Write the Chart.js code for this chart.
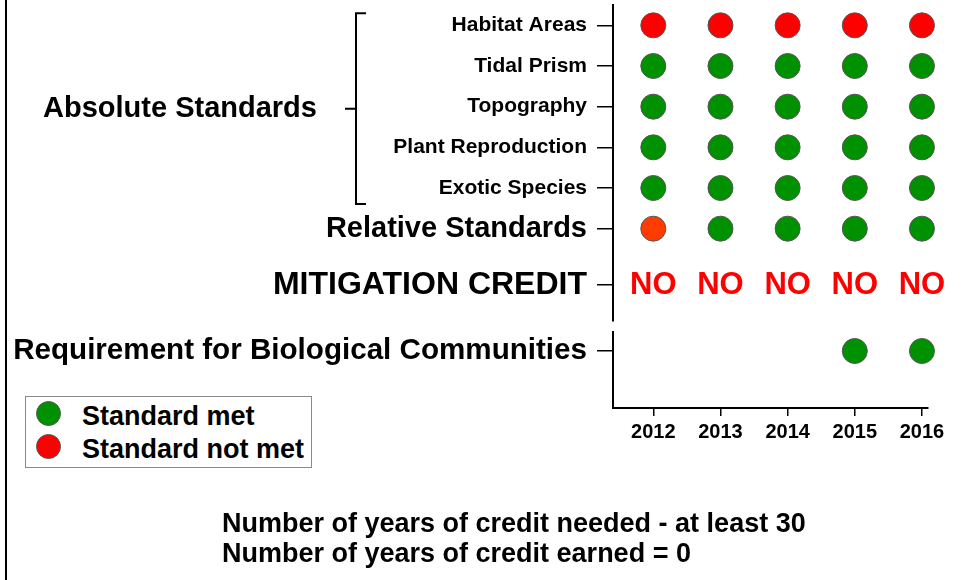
<!DOCTYPE html>
<html lang="en">
<head>
    <meta charset="UTF-8">
    <title>Mitigation Standards</title>
    <script src="https://cdn.jsdelivr.net/npm/chart.js"></script>

    <style>
        body {
            margin: 0;
            background: #ffffff;
            font-family: 'Liberation Sans', Arial, sans-serif;
        }

        #wrap {
            position: relative;
            width: 980px;
            height: 580px;
            overflow: hidden;
        }

        #frame {
            position: absolute;
            left: 5px;
            top: 0;
            width: 2px;
            height: 580px;
            background: #000;
        }

        #chart {
            position: absolute;
            left: 0;
            top: 0;
        }

        #legend {
            position: absolute;
            left: 25px;
            top: 396px;
            width: 285px;
            height: 70px;
            border: 1px solid #8a8a8a;
            background: #fff;
        }

        .item {
            position: absolute;
            left: 10px;
            width: 270px;
            height: 30px;
        }

        .dot {
            position: absolute;
            left: 0;
            top: 0;
            width: 25px;
            height: 25px;
            border-radius: 50%;
            border: 1px solid #555;
            box-sizing: border-box;
        }

        .txt {
            position: absolute;
            left: 46px;
            top: 0;
            font-weight: bold;
            font-size: 27px;
            line-height: 30px;
            white-space: nowrap;
            color: #000;
        }

        #notes {
            position: absolute;
            left: 222px;
            top: 508px;
            font-weight: bold;
            font-size: 27px;
            line-height: 30px;
            white-space: nowrap;
            color: #000;
        }
    </style>
</head>
<body>

<div id="wrap">
    <div id="frame"></div>
    <canvas id="chart" width="980" height="580"></canvas>
    <div id="legend"></div>
    <div id="notes"></div>
</div>

<script>
    // years on the x axis
    const years = [2012, 2013, 2014, 2015, 2016];

    // rows of the upper panel (top to bottom)
    const standards = ['Habitat Areas', 'Tidal Prism', 'Topography', 'Plant Reproduction', 'Exotic Species', 'Relative Standards'];

    // 1 = standard met, 0 = standard not met, 0.5 = partly met (orange dot)
    const habitatAreas      = [0, 0, 0, 0, 0];
    const tidalPrism        = [1, 1, 1, 1, 1];
    const topography        = [1, 1, 1, 1, 1];
    const plantReproduction = [1, 1, 1, 1, 1];
    const exoticSpecies     = [1, 1, 1, 1, 1];
    const relativeStandards = [0.5, 1, 1, 1, 1];

    const creditLabel = 'MITIGATION CREDIT';
    const mitigationCredit = ['NO', 'NO', 'NO', 'NO', 'NO'];

    const communitiesLabel = 'Requirement for Biological Communities';
    const biologicalCommunities = [null, null, null, 1, 1];  // not assessed before 2015

    const legendLabels = ['Standard met', 'Standard not met'];
    const notes = ['Number of years of credit needed - at least 30', 'Number of years of credit earned = 0'];

    const FONT = "'Liberation Sans', Arial, sans-serif";
    const GREEN = '#009100';
    const RED = '#ff0000';
    const ORANGE = '#ff3c00';

    function statusColor(v) {
        if (v === 1) return GREEN;
        if (v === 0) return RED;
        return ORANGE;
    }

    // build the point lists from the rows
    const stdRows = [habitatAreas, tidalPrism, topography, plantReproduction, exoticSpecies, relativeStandards];
    const stdPoints = [];
    stdRows.forEach((row, r) => {
        row.forEach((v, i) => stdPoints.push({ x: years[i], y: standards[r], s: v }));
    });

    const creditPoints = mitigationCredit.map((t, i) => ({ x: years[i], y: creditLabel, t: t }));

    const reqPoints = [];
    biologicalCommunities.forEach((v, i) => {
        if (v !== null) reqPoints.push({ x: years[i], y: communitiesLabel, s: v });
    });

    // all left axes share the same width so the plot starts at the same x,
    // and their label padding must not push the plot area down
    const fixWidth = scale => {
        scale.width = 613;
        scale.paddingTop = 0;
        scale.paddingBottom = 0;
    };
    const axisBorder = { color: '#000', width: 2 };
    const tickGrid = { drawOnChartArea: false, drawTicks: true, tickLength: 16, tickColor: '#000', lineWidth: 1.5 };

    // "NO" text drawn on the credit row
    const creditText = {
        id: 'creditText',
        afterDatasetsDraw(chart) {
            const meta = chart.getDatasetMeta(1);
            const ctx = chart.ctx;
            ctx.save();
            ctx.font = 'bold 31px ' + FONT;
            ctx.fillStyle = RED;
            ctx.textAlign = 'center';
            ctx.textBaseline = 'middle';
            meta.data.forEach((el, i) => ctx.fillText(creditPoints[i].t, el.x, el.y));
            ctx.restore();
        }
    };

    // bracket grouping the absolute standards
    const bracket = {
        id: 'bracket',
        afterDraw(chart) {
            const s = chart.scales.yStd;
            const top = s.getPixelForValue(0) - 12;
            const bottom = s.getPixelForValue(4) + 16;
            const mid = (top + bottom) / 2;
            const x = 356;
            const ctx = chart.ctx;
            ctx.save();
            ctx.strokeStyle = '#000';
            ctx.lineWidth = 2;
            ctx.beginPath();
            ctx.moveTo(x + 10, top);
            ctx.lineTo(x, top);
            ctx.lineTo(x, bottom);
            ctx.lineTo(x + 10, bottom);
            ctx.moveTo(x, mid);
            ctx.lineTo(x - 11, mid);
            ctx.stroke();
            ctx.font = 'bold 29px ' + FONT;
            ctx.fillStyle = '#000';
            ctx.textAlign = 'center';
            ctx.textBaseline = 'middle';
            ctx.fillText('Absolute Standards', 180, mid);
            ctx.restore();
        }
    };

    const dotStyle = {
        clip: false,
        pointRadius: 12.5,
        pointBorderWidth: 1,
        pointBorderColor: '#555',
        pointBackgroundColor: ctx => statusColor(ctx.raw ? ctx.raw.s : 1)
    };

    new Chart(document.getElementById('chart'), {
        type: 'scatter',
        data: {
            datasets: [
                Object.assign({ label: 'standards', data: stdPoints, yAxisID: 'yStd' }, dotStyle),
                { label: 'credit', data: creditPoints, yAxisID: 'yMit', pointRadius: 0, clip: false },
                Object.assign({ label: 'communities', data: reqPoints, yAxisID: 'yReq' }, dotStyle)
            ]
        },
        options: {
            responsive: false,
            animation: false,
            events: [],
            layout: { autoPadding: false, padding: { top: 5, right: 52, bottom: 0, left: 0 } },
            plugins: {
                legend: { display: false },
                tooltip: { enabled: false }
            },
            scales: {
                x: {
                    type: 'linear',
                    min: 2011.4,
                    max: 2016.09,
                    afterBuildTicks: s => { s.ticks = years.map(v => ({ value: v })); },
                    afterFit: s => { s.height = 172; },
                    ticks: {
                        color: '#000',
                        padding: 4,
                        font: { family: FONT, weight: 'bold', size: 20 },
                        callback: v => String(v)
                    },
                    grid: { drawOnChartArea: false, drawTicks: true, tickLength: 8, tickColor: '#000', lineWidth: 1.5 },
                    border: axisBorder
                },
                yStd: {
                    type: 'category',
                    labels: standards,
                    offset: true,
                    position: 'left',
                    stack: 'rows',
                    stackWeight: 244,
                    weight: 4,
                    afterFit: fixWidth,
                    ticks: {
                        autoSkip: false,
                        color: '#000',
                        padding: 10,
                        // last row (Relative Standards) is a heading, larger font
                        font: ctx => ({ family: FONT, weight: 'bold', size: ctx.index === 5 ? 29 : 21 })
                    },
                    grid: tickGrid,
                    border: axisBorder
                },
                yMit: {
                    type: 'category',
                    labels: [creditLabel],
                    offset: true,
                    position: 'left',
                    stack: 'rows',
                    stackWeight: 72,
                    weight: 3,
                    afterFit: fixWidth,
                    ticks: { autoSkip: false, color: '#000', padding: 10, font: { family: FONT, weight: 'bold', size: 32 } },
                    grid: tickGrid,
                    border: axisBorder
                },
                yGap: {
                    type: 'category',
                    labels: [''],
                    position: 'left',
                    stack: 'rows',
                    stackWeight: 11,
                    weight: 2,
                    afterFit: fixWidth,
                    ticks: { display: false },
                    grid: { display: false },
                    border: { display: false }
                },
                yReq: {
                    type: 'category',
                    labels: [communitiesLabel, ''],
                    offset: true,
                    position: 'left',
                    stack: 'rows',
                    stackWeight: 76,
                    weight: 1,
                    afterFit: fixWidth,
                    ticks: { autoSkip: false, color: '#000', padding: 10, font: { family: FONT, weight: 'bold', size: 29.6 } },
                    grid: {
                        drawOnChartArea: false,
                        drawTicks: true,
                        tickLength: 16,
                        lineWidth: 1.5,
                        tickColor: ctx => ctx.index === 0 ? '#000' : 'rgba(0,0,0,0)'
                    },
                    border: axisBorder
                }
            }
        },
        plugins: [creditText, bracket]
    });

    // legend box
    const legendColors = [GREEN, RED];
    const legendTops = [4, 37];
    const legend = document.getElementById('legend');
    legendLabels.forEach((label, i) => {
        const item = document.createElement('div');
        item.className = 'item';
        item.style.top = legendTops[i] + 'px';
        item.innerHTML = '<div class="dot" style="background:' + legendColors[i] + '"></div>' +
            '<span class="txt">' + label + '</span>';
        legend.appendChild(item);
    });

    // notes under the chart
    document.getElementById('notes').innerHTML = notes.join('<br>');
</script>

</body>
</html>
